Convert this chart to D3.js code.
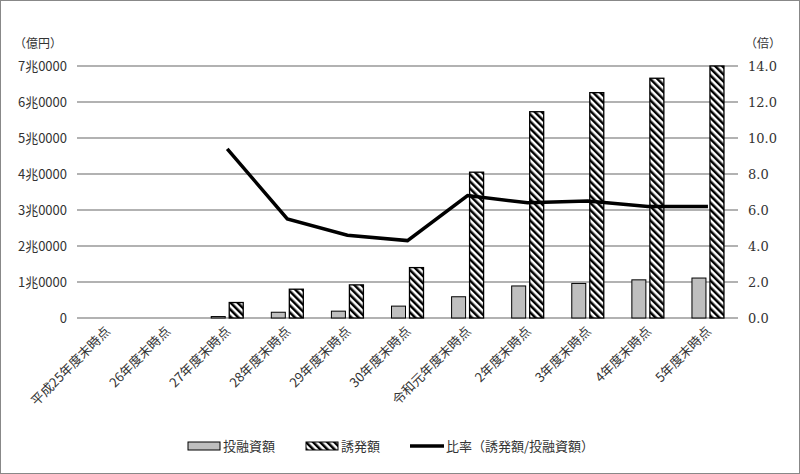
<!DOCTYPE html>
<html><head><meta charset="utf-8">
<script src="https://cdn.jsdelivr.net/npm/d3@7"></script>
<style>body{margin:0;background:#fff;} text{font-family:"Noto Sans CJK JP",sans-serif;}</style>
</head><body><div id="chart"></div>
<script>
// data (億円, 倍)
var categories = ["平成25年度末時点","26年度末時点","27年度末時点","28年度末時点","29年度末時点","30年度末時点","令和元年度末時点","2年度末時点","3年度末時点","4年度末時点","5年度末時点"];
var investment = [0, 0, 400, 1600, 1900, 3300, 5900, 8900, 9600, 10600, 11100];
var induced = [0, 0, 4300, 8000, 9200, 14000, 40500, 57300, 62600, 66600, 70000];
var ratio = [null, null, 9.4, 5.5, 4.6, 4.3, 6.8, 6.4, 6.5, 6.2, 6.2];
var leftTicks = [0, 10000, 20000, 30000, 40000, 50000, 60000, 70000];
var leftLabels = ["0","1兆0000","2兆0000","3兆0000","4兆0000","5兆0000","6兆0000","7兆0000"];
var rightTicks = [0, 2, 4, 6, 8, 10, 12, 14];

var svgWidth = 800, svgHeight = 474;
var margin = {top: 66, right: 62, bottom: 156, left: 77};
var chartWidth = svgWidth - margin.left - margin.right;
var chartHeight = svgHeight - margin.top - margin.bottom;

var svg = d3.select("#chart").append("svg")
  .attr("width", svgWidth).attr("height", svgHeight);

svg.append("rect").attr("x", 0.5).attr("y", 0.5)
  .attr("width", svgWidth - 1).attr("height", svgHeight - 1)
  .attr("fill", "none").attr("stroke", "#888");

// hatch: diagonal stripes top-left to bottom-right
var defs = svg.append("defs");
var pat = defs.append("pattern").attr("id", "hatch")
  .attr("patternUnits", "userSpaceOnUse").attr("width", 5).attr("height", 5)
  .attr("patternTransform", "rotate(-45)");
pat.append("rect").attr("width", 5).attr("height", 5).attr("fill", "#fff");
pat.append("rect").attr("width", 2.5).attr("height", 5).attr("fill", "#000");

var g = svg.append("g").attr("transform", `translate(${margin.left},${margin.top})`);

var x = d3.scaleBand().domain(categories).range([0, chartWidth]);
var yL = d3.scaleLinear().domain([0, 70000]).range([chartHeight, 0]);
var yR = d3.scaleLinear().domain([0, 14]).range([chartHeight, 0]);

// gridlines
g.selectAll(".grid").data(leftTicks).enter().append("line")
  .attr("x1", 0).attr("x2", chartWidth)
  .attr("y1", d => yL(d)).attr("y2", d => yL(d))
  .attr("stroke", "#999").attr("stroke-width", 1.5);

// left axis
g.append("g").call(d3.axisLeft(yL).tickValues(leftTicks).tickSize(0).tickPadding(10)
    .tickFormat((d, i) => leftLabels[i]))
  .call(a => a.select(".domain").remove())
  .selectAll("text").attr("font-size", 13).attr("fill", "#333")
  .style("font-family", "'Noto Sans CJK JP',sans-serif");

// right axis
g.append("g").attr("transform", `translate(${chartWidth},0)`)
  .call(d3.axisRight(yR).tickValues(rightTicks).tickSize(0).tickPadding(10)
    .tickFormat(d3.format(".1f")))
  .call(a => a.select(".domain").remove())
  .selectAll("text").attr("font-size", 13).attr("fill", "#333")
  .style("font-family", "'DejaVu Serif',serif");

svg.append("text").attr("x", 14).attr("y", 48).attr("font-size", 12).attr("fill", "#333").text("（億円）");
svg.append("text").attr("x", 745).attr("y", 48).attr("font-size", 12).attr("fill", "#333").text("（倍）");

var bw = 14;
// investment bars
g.selectAll(".inv").data(investment).enter().append("rect")
  .attr("x", (d, i) => x(categories[i]) + x.bandwidth() / 2 - bw - 2)
  .attr("y", d => yL(d)).attr("width", bw)
  .attr("height", d => chartHeight - yL(d))
  .attr("fill", "#bfbfbf").attr("stroke", d => d > 0 ? "#000" : "none").attr("stroke-width", 1);

// induced bars
g.selectAll(".ind").data(induced).enter().append("rect")
  .attr("x", (d, i) => x(categories[i]) + x.bandwidth() / 2 + 2)
  .attr("y", d => yL(d)).attr("width", bw)
  .attr("height", d => chartHeight - yL(d))
  .attr("fill", "url(#hatch)").attr("stroke", d => d > 0 ? "#000" : "none").attr("stroke-width", 1.3);

// ratio line
var line = d3.line().defined(d => d != null)
  .x((d, i) => x(categories[i]) + x.bandwidth() / 2)
  .y(d => yR(d));
g.append("path").datum(ratio).attr("d", line)
  .attr("fill", "none").attr("stroke", "#000").attr("stroke-width", 3.5);

// x labels
g.selectAll(".xl").data(categories).enter().append("text")
  .attr("transform", d => `translate(${x(d) + x.bandwidth() / 2 + 4},${chartHeight + 14}) rotate(-45)`)
  .attr("text-anchor", "end").attr("font-size", 13).attr("fill", "#333")
  .style("text-rendering", "geometricPrecision")
  .text(d => d);

// legend
var lg = svg.append("g").attr("transform", "translate(188,446)");
lg.append("rect").attr("x", 0).attr("y", -4).attr("width", 32).attr("height", 8)
  .attr("fill", "#bfbfbf").attr("stroke", "#000");
lg.append("text").attr("x", 35).attr("y", 5).attr("font-size", 13).attr("fill", "#333").text("投融資額");
lg.append("rect").attr("x", 118).attr("y", -4).attr("width", 32).attr("height", 8)
  .attr("fill", "url(#hatch)").attr("stroke", "#000");
lg.append("text").attr("x", 153).attr("y", 5).attr("font-size", 13).attr("fill", "#333").text("誘発額");
lg.append("line").attr("x1", 222).attr("x2", 256).attr("y1", 0).attr("y2", 0)
  .attr("stroke", "#000").attr("stroke-width", 3.5);
lg.append("text").attr("x", 258).attr("y", 5).attr("font-size", 13).attr("fill", "#333").text("比率（誘発額/投融資額）");
</script></body></html>
